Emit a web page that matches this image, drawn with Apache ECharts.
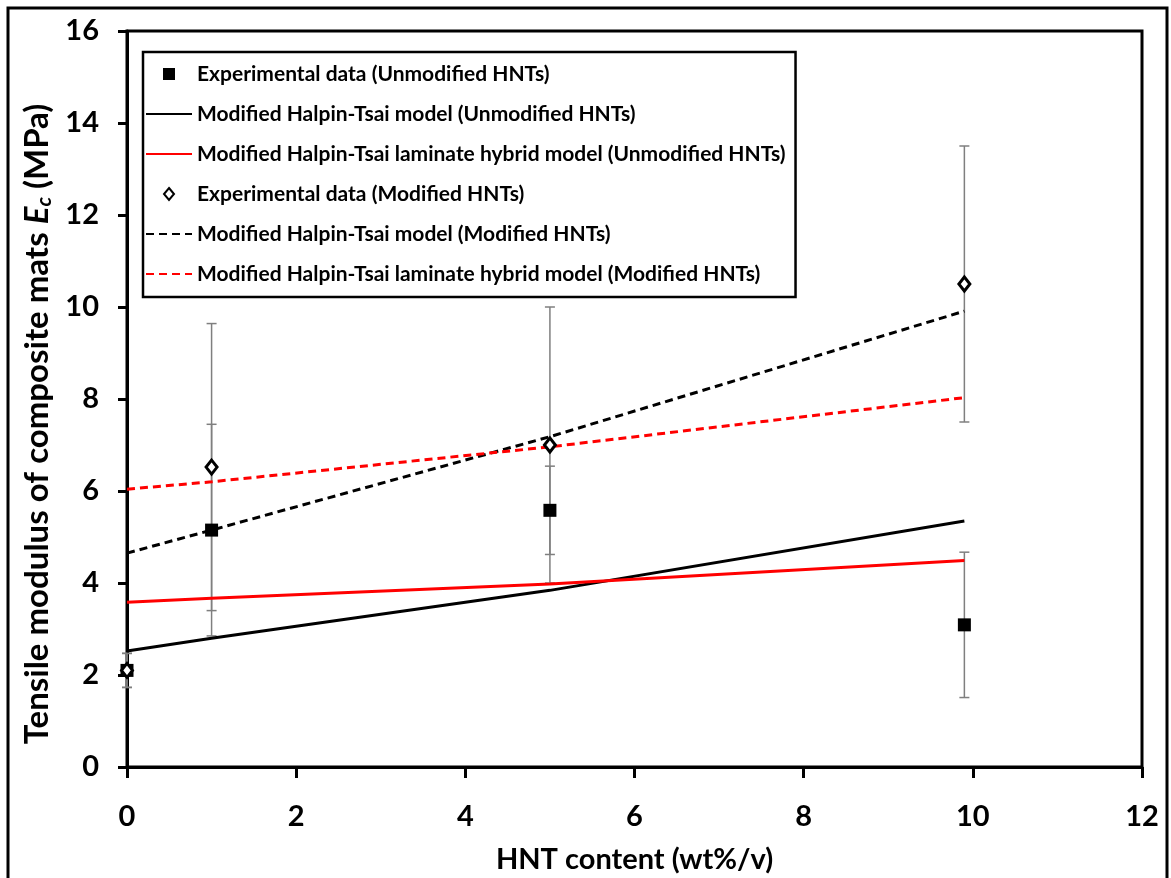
<!DOCTYPE html>
<html>
<head>
<meta charset="utf-8">
<script src="https://cdn.jsdelivr.net/npm/echarts@6/dist/echarts.min.js"></script>
<style>
  html, body { margin: 0; padding: 0; background: #fff; }
  #chart { width: 1171px; height: 878px; }
</style>
</head>
<body>
<div id="chart"></div>
<script>
// HNT loading (wt%/v) at which the mats were tested / models evaluated
const hntContent = [0, 1, 5, 9.9];

// Experimental tensile modulus (MPa) and standard deviations
const expUnmodified = [2.1, 5.15, 5.58, 3.09];
const errUnmodified = [0.37, 2.3, 0.96, 1.58];
const expModified = [2.1, 6.52, 7.0, 10.5];
const errModified = [0.37, 3.12, 3.0, 3.0];

// Model predictions (MPa)
const htUnmodified = [2.52, 2.80, 3.84, 5.35];
const hybridUnmodified = [3.58, 3.67, 3.98, 4.49];
const htModified = [4.65, 5.15, 7.18, 9.91];
const hybridModified = [6.04, 6.20, 6.96, 8.03];

// Fitted k factors for each model curve
const kHtModified = '2.0569';
const kHybridModified = '2.3602';
const kHtUnmodified = '1.1124';
const kHybridUnmodified = '1.5057';

const seriesNames = [
  'Experimental data (Unmodified HNTs)',
  'Modified Halpin-Tsai model (Unmodified HNTs)',
  'Modified Halpin-Tsai laminate hybrid model (Unmodified HNTs)',
  'Experimental data (Modified HNTs)',
  'Modified Halpin-Tsai model (Modified HNTs)',
  'Modified Halpin-Tsai laminate hybrid model (Modified HNTs)'
];

const FONT = 'Lato, "Open Sans", sans-serif';

// Legend glyphs: the two leading moves pin the icon box to the full legend
// item size, so the marker keeps its shape in the middle of the slot.
const ICON_SQUARE = 'path://M0,0M46,12M17,0L29,0L29,12L17,12Z';
const ICON_DIAMOND = 'path://M0,0M46,12M23,0L28,6L23,12L18,6Z';
const legendItems = [
  { name: seriesNames[0], icon: ICON_SQUARE },
  { name: seriesNames[1], itemStyle: { opacity: 0 } },
  { name: seriesNames[2], itemStyle: { opacity: 0 } },
  { name: seriesNames[3], icon: ICON_DIAMOND },
  { name: seriesNames[4], itemStyle: { opacity: 0 } },
  { name: seriesNames[5], itemStyle: { opacity: 0 } }
];

const pairs = (ys) => hntContent.map((x, i) => [x, ys[i]]);
const bars = (ys, es) => hntContent.map((x, i) => [x, ys[i] - es[i], ys[i] + es[i]]);

function renderErrorBar(params, api) {
  const x = api.value(0);
  const lo = api.coord([x, api.value(1)]);
  const hi = api.coord([x, api.value(2)]);
  const cap = 5;
  const style = { stroke: '#7f7f7f', lineWidth: 1.5 };
  return {
    type: 'group',
    children: [
      { type: 'line', shape: { x1: lo[0], y1: lo[1], x2: hi[0], y2: hi[1] }, style },
      { type: 'line', shape: { x1: hi[0] - cap, y1: hi[1], x2: hi[0] + cap, y2: hi[1] }, style },
      { type: 'line', shape: { x1: lo[0] - cap, y1: lo[1], x2: lo[0] + cap, y2: lo[1] }, style }
    ]
  };
}

function kLabel(value, coord) {
  return {
    symbol: 'none',
    silent: true,
    data: [{
      coord: coord,
      label: {
        show: true,
        position: 'inside',
        formatter: '{i|k}{n|=' + value + '}',
        rich: {
          i: { fontFamily: FONT, fontSize: 28, fontWeight: 'bold', fontStyle: 'italic', color: '#000' },
          n: { fontFamily: FONT, fontSize: 28, fontWeight: 'bold', color: '#000' }
        }
      }
    }]
  };
}

const chart = echarts.init(document.getElementById('chart'), null, { renderer: 'canvas' });

const option = {
  backgroundColor: '#fff',
  animation: false,
  textStyle: { fontFamily: FONT },
  grid: {
    left: 127, right: 29, top: 31, bottom: 111,
    show: true, borderColor: '#000', borderWidth: 3,
    containLabel: false, outerBoundsMode: 'none'
  },
  graphic: [{
    type: 'rect',
    shape: { x: 8, y: 8, width: 1159, height: 890 },
    style: { fill: 'none', stroke: '#000', lineWidth: 3 },
    silent: true, z: 100
  }],
  legend: {
    orient: 'vertical',
    left: 143,
    top: 52,
    padding: [11, 10, 12, 2],
    borderColor: '#000',
    borderWidth: 2.5,
    itemWidth: 46,
    itemHeight: 12,
    itemGap: 18,
    data: legendItems,
    textStyle: { fontFamily: FONT, fontSize: 21, fontWeight: 'bold', color: '#000', lineHeight: 22 },
    selectedMode: false
  },
  xAxis: {
    type: 'value',
    min: 0, max: 12, interval: 2,
    name: 'HNT content (wt%/v)',
    nameLocation: 'middle',
    nameGap: 78,
    nameTextStyle: { fontFamily: FONT, fontSize: 29, fontWeight: 'bold', color: '#000' },
    axisLine: { lineStyle: { color: '#000', width: 3 } },
    axisTick: { inside: false, length: 11, lineStyle: { color: '#000', width: 3 } },
    axisLabel: { margin: 35, fontFamily: FONT, fontSize: 29, fontWeight: 'bold', color: '#000' },
    splitLine: { show: false }
  },
  yAxis: {
    type: 'value',
    min: 0, max: 16, interval: 2,
    name: 'Tensile modulus of composite mats {e|E}{c|c} (MPa)',
    nameLocation: 'middle',
    nameGap: 70,
    nameRotate: 90,
    nameTextStyle: {
      fontFamily: FONT, fontSize: 33, fontWeight: 'bold', color: '#000',
      padding: [0, 50, 0, 0],
      rich: {
        e: { fontFamily: FONT, fontSize: 33, fontWeight: 'bold', fontStyle: 'italic', color: '#000' },
        c: { fontFamily: FONT, fontSize: 21, fontWeight: 'bold', fontStyle: 'italic', color: '#000', padding: [13, 0, 0, 0] }
      }
    },
    axisLine: { lineStyle: { color: '#000', width: 3 } },
    axisTick: { inside: false, length: 9, lineStyle: { color: '#000', width: 3 } },
    axisLabel: { margin: 28, fontFamily: FONT, fontSize: 29, fontWeight: 'bold', color: '#000' },
    splitLine: { show: false }
  },
  series: [
    {
      type: 'custom', name: 'errUnmodified', renderItem: renderErrorBar,
      data: bars(expUnmodified, errUnmodified), z: 1, silent: true
    },
    {
      type: 'custom', name: 'errModified', renderItem: renderErrorBar,
      data: bars(expModified, errModified), z: 1, silent: true
    },
    {
      name: seriesNames[0], type: 'scatter', data: pairs(expUnmodified),
      symbol: 'rect', symbolSize: 13,
      itemStyle: { color: '#000', opacity: 1 }, z: 4
    },
    {
      name: seriesNames[1], type: 'line', data: pairs(htUnmodified), symbol: 'none',
      lineStyle: { color: '#000', width: 3 }, itemStyle: { color: '#000' }, z: 2,
      markPoint: kLabel(kHtUnmodified, [9.61, 5.8])
    },
    {
      name: seriesNames[2], type: 'line', data: pairs(hybridUnmodified), symbol: 'none',
      lineStyle: { color: '#ff0000', width: 3 }, itemStyle: { color: '#ff0000' }, z: 2,
      markPoint: kLabel(kHybridUnmodified, [8.96, 3.8])
    },
    {
      name: seriesNames[3], type: 'scatter', data: pairs(expModified),
      symbol: 'diamond', symbolSize: [11, 14],
      itemStyle: { color: '#fff', borderColor: '#000', borderWidth: 3, opacity: 1 }, z: 5
    },
    {
      name: seriesNames[4], type: 'line', data: pairs(htModified), symbol: 'none',
      lineStyle: { color: '#000', width: 3, type: [8, 5] }, itemStyle: { color: '#000' }, z: 2,
      markPoint: kLabel(kHtModified, [8.72, 10.2])
    },
    {
      name: seriesNames[5], type: 'line', data: pairs(hybridModified), symbol: 'none',
      lineStyle: { color: '#ff0000', width: 3, type: [8, 5] }, itemStyle: { color: '#ff0000' }, z: 2,
      markPoint: kLabel(kHybridModified, [8.72, 8.24])
    }
  ]
};

chart.setOption(option);
</script>
</body>
</html>
